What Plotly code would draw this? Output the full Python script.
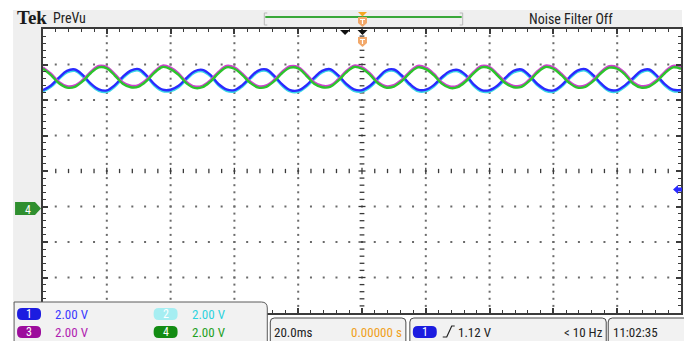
import plotly.graph_objects as go

# ---------------- data ----------------
# time axis, ms (20 ms/div, trigger at centre)
time_ms = [-100.0, -97.5, -95.0, -92.5, -90.0, -87.5, -85.0, -82.5, -80.0, -77.5,
           -75.0, -72.5, -70.0, -67.5, -65.0, -62.5, -60.0, -57.5, -55.0, -52.5,
           -50.0, -47.5, -45.0, -42.5, -40.0, -37.5, -35.0, -32.5, -30.0, -27.5,
           -25.0, -22.5, -20.0, -17.5, -15.0, -12.5, -10.0, -7.5, -5.0, -2.5,
           0.0, 2.5, 5.0, 7.5, 10.0, 12.5, 15.0, 17.5, 20.0, 22.5,
           25.0, 27.5, 30.0, 32.5, 35.0, 37.5, 40.0, 42.5, 45.0, 47.5,
           50.0, 52.5, 55.0, 57.5, 60.0, 62.5, 65.0, 67.5, 70.0, 72.5,
           75.0, 77.5, 80.0, 82.5, 85.0, 87.5, 90.0, 92.5, 95.0, 97.5, 100.0]

# screen positions of the traces, in divisions above centre
ch1_div = [2.28, 2.41, 2.63, 2.82, 2.86, 2.70, 2.46, 2.30,
           2.27, 2.42, 2.65, 2.83, 2.87, 2.69, 2.44, 2.29,
           2.29, 2.40, 2.62, 2.81, 2.85, 2.71, 2.45, 2.30,
           2.28, 2.42, 2.64, 2.83, 2.86, 2.68, 2.44, 2.28,
           2.27, 2.41, 2.63, 2.82, 2.87, 2.70, 2.46, 2.30,
           2.28, 2.40, 2.62, 2.83, 2.86, 2.69, 2.45, 2.29,
           2.29, 2.42, 2.64, 2.81, 2.85, 2.71, 2.44, 2.28,
           2.28, 2.41, 2.63, 2.82, 2.86, 2.69, 2.45, 2.30,
           2.27, 2.41, 2.64, 2.83, 2.87, 2.70, 2.46, 2.29,
           2.28, 2.42, 2.62, 2.82, 2.86, 2.68, 2.44, 2.29,
           2.28]
ch2_div = [2.24, 2.37, 2.59, 2.78, 2.82, 2.66, 2.42, 2.26,
           2.23, 2.38, 2.61, 2.79, 2.83, 2.65, 2.40, 2.25,
           2.25, 2.36, 2.58, 2.77, 2.81, 2.67, 2.41, 2.26,
           2.24, 2.38, 2.60, 2.79, 2.82, 2.64, 2.40, 2.24,
           2.23, 2.37, 2.59, 2.78, 2.83, 2.66, 2.42, 2.26,
           2.24, 2.36, 2.58, 2.79, 2.82, 2.65, 2.41, 2.25,
           2.25, 2.38, 2.60, 2.77, 2.81, 2.67, 2.40, 2.24,
           2.24, 2.37, 2.59, 2.78, 2.82, 2.65, 2.41, 2.26,
           2.23, 2.37, 2.60, 2.79, 2.83, 2.66, 2.42, 2.25,
           2.24, 2.38, 2.58, 2.78, 2.82, 2.64, 2.40, 2.25,
           2.24]
ch4_div = [2.88, 2.70, 2.47, 2.35, 2.37, 2.53, 2.76, 2.92,
           2.89, 2.69, 2.46, 2.36, 2.38, 2.54, 2.77, 2.93,
           2.87, 2.71, 2.47, 2.34, 2.36, 2.52, 2.75, 2.92,
           2.88, 2.70, 2.48, 2.35, 2.37, 2.53, 2.76, 2.91,
           2.89, 2.69, 2.46, 2.36, 2.37, 2.54, 2.77, 2.93,
           2.88, 2.71, 2.47, 2.35, 2.38, 2.53, 2.76, 2.92,
           2.87, 2.70, 2.46, 2.34, 2.36, 2.52, 2.75, 2.92,
           2.89, 2.69, 2.47, 2.36, 2.37, 2.54, 2.77, 2.93,
           2.88, 2.70, 2.48, 2.35, 2.37, 2.53, 2.76, 2.91,
           2.88, 2.71, 2.46, 2.35, 2.38, 2.53, 2.76, 2.92,
           2.88]
ch3_div = [2.92, 2.74, 2.51, 2.39, 2.41, 2.57, 2.80, 2.96,
           2.93, 2.73, 2.50, 2.40, 2.42, 2.58, 2.81, 2.97,
           2.91, 2.75, 2.51, 2.38, 2.40, 2.56, 2.79, 2.96,
           2.92, 2.74, 2.52, 2.39, 2.41, 2.57, 2.80, 2.95,
           2.93, 2.73, 2.50, 2.40, 2.41, 2.58, 2.81, 2.97,
           2.92, 2.75, 2.51, 2.39, 2.42, 2.57, 2.80, 2.96,
           2.91, 2.74, 2.50, 2.38, 2.40, 2.56, 2.79, 2.96,
           2.93, 2.73, 2.51, 2.40, 2.41, 2.58, 2.81, 2.97,
           2.92, 2.74, 2.52, 2.39, 2.41, 2.57, 2.80, 2.95,
           2.92, 2.75, 2.50, 2.39, 2.42, 2.57, 2.80, 2.96,
           2.92]

channel_labels = ["1", "2", "3", "4"]
channel_scale = ["2.00 V", "2.00 V", "2.00 V", "2.00 V"]
timebase_label = "20.0ms"
position_label = "0.00000 s"
trigger_label = "1.12 V"
freq_label = "< 10 Hz"
clock_label = "11:02:35"

# ---------------- styling ----------------
C1, C2, C3, C4 = "#2a2aff", "#3ad6e6", "#d040d0", "#2cc42c"
UI_FONT = "Liberation Sans Narrow, Arial Narrow, Roboto Condensed, DejaVu Sans Condensed, Liberation Sans, sans-serif"
GRID = "#6a6a6a"
FRAME = "#3a3a3a"

W, H = 684, 341
L, R, T, B = 43, 683, 29, 313


def fx(px):
    return (px - L) / (R - L)


def fy(py):
    return (B - py) / (B - T)


def poly(points, close=True):
    s = "M " + " L ".join(f"{fx(x):.5f},{fy(y):.5f}" for x, y in points)
    return s + (" Z" if close else "")


def rrect(x0, y0, x1, y1, r, corners=(1, 1, 1, 1)):
    tl, tr, br, bl = [r * c for c in corners]
    p = lambda x, y: f"{fx(x):.5f},{fy(y):.5f}"
    s = f"M {p(x0 + tl, y0)} L {p(x1 - tr, y0)} "
    s += f"Q {p(x1, y0)} {p(x1, y0 + tr)} " if tr else ""
    s += f"L {p(x1, y1 - br)} "
    s += f"Q {p(x1, y1)} {p(x1 - br, y1)} " if br else ""
    s += f"L {p(x0 + bl, y1)} "
    s += f"Q {p(x0, y1)} {p(x0, y1 - bl)} " if bl else ""
    s += f"L {p(x0, y0 + tl)} "
    s += f"Q {p(x0, y0)} {p(x0 + tl, y0)} " if tl else ""
    return s + "Z"


fig = go.Figure()

# ---- graticule dots (decoration, built from the division grid) ----
gx, gy = [], []
for row in [-3, -2, -1, 1, 2, 3]:
    for k in range(1, 50):
        gx.append(-100 + 4 * k)
        gy.append(row)
for col in [-80, -60, -40, -20, 20, 40, 60, 80]:
    for k in range(1, 40):
        gx.append(col)
        gy.append(-4 + 0.2 * k)
fig.add_trace(go.Scatter(x=gx, y=gy, mode="markers", hoverinfo="skip",
                         marker=dict(symbol="square", size=2, color=GRID, line=dict(width=0)),
                         showlegend=False))

# centre cross tick marks
tx, ty = [], []
for k in range(1, 50):
    x = -100 + 4 * k
    h = 0.09 if (k % 5 == 0) else 0.06
    tx += [x, x, None]
    ty += [-h, h, None]
for k in range(1, 40):
    y = -4 + 0.2 * k
    w = 1.1 if (k % 5 == 0) else 0.75
    tx += [-w, w, None]
    ty += [y, y, None]
fig.add_trace(go.Scatter(x=tx, y=ty, mode="lines", hoverinfo="skip",
                         line=dict(color=FRAME, width=1.3), showlegend=False))

# ---- waveforms ----
for vals, col in [(ch2_div, C2), (ch1_div, C1), (ch3_div, C3), (ch4_div, C4)]:
    fig.add_trace(go.Scatter(x=time_ms, y=vals, mode="lines",
                             line=dict(color=col, width=2.4, shape="spline", smoothing=1.0),
                             showlegend=False, hoverinfo="skip"))

shapes = []
shapes.append(dict(type="rect", xref="paper", yref="paper", x0=fx(13), x1=fx(684), y0=fy(29), y1=fy(10),
                   fillcolor="#efefef", line=dict(width=0), layer="below"))
shapes.append(dict(type="rect", xref="paper", yref="paper", x0=fx(13), x1=fx(43), y0=fy(305), y1=fy(10),
                   fillcolor="#efefef", line=dict(width=0), layer="below"))

# record-view bar in top strip
shapes.append(dict(type="line", xref="paper", yref="paper", x0=fx(266), x1=fx(463), y0=fy(17), y1=fy(17),
                   line=dict(color="#3aa83a", width=2)))
for bx, d in [(265, 1), (464, -1)]:
    shapes.append(dict(type="path", xref="paper", yref="paper",
                       path=poly([(bx + 3 * d, 13), (bx, 13), (bx, 25), (bx + 3 * d, 25)], close=False),
                       line=dict(color="#b8b8b8", width=1)))
shapes.append(dict(type="path", xref="paper", yref="paper",
                   path=poly([(359, 12), (368, 12), (363.5, 16.5)]), fillcolor="#f5a623", line=dict(width=0)))
for ty0 in [17, 37]:
    shapes.append(dict(type="path", xref="paper", yref="paper",
                       path=poly([(359, ty0), (368, ty0), (368, ty0 + 6), (363.5, ty0 + 10), (359, ty0 + 6)]),
                       fillcolor="#f2a86a", line=dict(width=0)))
    shapes.append(dict(type="path", xref="paper", yref="paper",
                       path=poly([(361, ty0 + 2.5), (366, ty0 + 2.5)], close=False) + " " +
                       poly([(363.5, ty0 + 2.5), (363.5, ty0 + 7)], close=False),
                       line=dict(color="white", width=1.2)))
for cx in [346, 363.5]:
    shapes.append(dict(type="path", xref="paper", yref="paper",
                       path=poly([(cx - 5, 30), (cx + 5, 30), (cx, 35)]), fillcolor="#111111", line=dict(width=0),
                       layer="above"))

# ch4 ground marker
shapes.append(dict(type="path", xref="paper", yref="paper",
                   path=poly([(15, 202), (35, 202), (41, 208.5), (35, 215), (15, 215)]),
                   fillcolor="#2f8f2f", line=dict(width=0)))
# trigger level arrow (right)
shapes.append(dict(type="path", xref="paper", yref="paper",
                   path=poly([(675, 189.5), (680, 185), (680, 187.5), (684, 187.5), (684, 191.5), (680, 191.5), (680, 194)]),
                   fillcolor="#2a2aff", line=dict(width=0), layer="above"))

# channel readout box
shapes.append(dict(type="path", xref="paper", yref="paper",
                   path=rrect(14, 302, 268, 346, 6, corners=(0, 1, 0, 0)),
                   fillcolor="#f2f2f2", line=dict(color="#5a5a5a", width=1), layer="above"))
badge_fill = [("#1c1ce0", 17, 308), ("#a6eef2", 154, 308), ("#9c0c9c", 17, 326), ("#138c13", 154, 326)]
for fc, bx, by in badge_fill:
    shapes.append(dict(type="path", xref="paper", yref="paper", path=rrect(bx, by, bx + 24, by + 12, 5),
                       fillcolor=fc, line=dict(width=0), layer="above"))
for x0, x1 in [(271, 407), (411, 608), (610, 690)]:
    shapes.append(dict(type="path", xref="paper", yref="paper", path=rrect(x0, 318, x1, 346, 4),
                       fillcolor="#f2f2f2", line=dict(color="#4a4a4a", width=1), layer="above"))
shapes.append(dict(type="path", xref="paper", yref="paper", path=rrect(414, 326, 438, 338, 5),
                   fillcolor="#1c1ce0", line=dict(width=0), layer="above"))
# rising-edge trigger glyph
shapes.append(dict(type="path", xref="paper", yref="paper",
                   path=poly([(444, 337), (448, 337), (453, 326), (456, 326)], close=False),
                   line=dict(color="#222222", width=1.2), layer="above"))

ann = []


def text(x, y, s, color="#222222", size=13, anchor="left", family=UI_FONT, bold=False):
    ann.append(dict(x=fx(x), y=fy(y), xref="paper", yref="paper", text=f"<b>{s}</b>" if bold else s,
                    showarrow=False, xanchor=anchor, yanchor="middle",
                    font=dict(family=family, size=size, color=color)))


text(15, 17, "Tek", color="#1a1a1a", size=19, family="Liberation Serif, DejaVu Serif, serif", bold=True)
text(51, 18, "PreVu", size=14)
text(573, 19, "Noise Filter Off", size=14, anchor="center")
text(28, 203 + 6.5, "4", color="white", size=12, anchor="center")

text(29, 314, channel_labels[0], color="white", size=12, anchor="center")
text(166, 314, channel_labels[1], color="white", size=12, anchor="center")
text(29, 332, channel_labels[2], color="white", size=12, anchor="center")
text(166, 332, channel_labels[3], color="white", size=12, anchor="center")
text(53, 314, channel_scale[0], color="#3a3aff")
text(190, 314, channel_scale[1], color="#2ed2de")
text(53, 332, channel_scale[2], color="#b01cb0")
text(190, 332, channel_scale[3], color="#1ea01e")

text(273, 332, timebase_label)
text(405, 332, position_label, color="#f0a020", anchor="right")
text(426, 332, "1", color="white", size=12, anchor="center")
text(457, 332, trigger_label)
text(607, 332, freq_label, anchor="right")
text(613, 332, clock_label)

fig.update_layout(
    width=W, height=H,
    margin=dict(l=L, r=W - R, t=T, b=H - B, pad=0),
    paper_bgcolor="white", plot_bgcolor="white",
    shapes=shapes, annotations=ann, showlegend=False,
    xaxis=dict(range=[-100, 100], showgrid=False, zeroline=False, showline=True, linecolor=FRAME,
               linewidth=1.5, mirror="ticks", ticks="inside", tick0=-100, dtick=20, ticklen=5,
               tickwidth=1.5, tickcolor=FRAME, showticklabels=False, fixedrange=True,
               minor=dict(dtick=4, tick0=-100, ticks="inside", ticklen=3, tickcolor=FRAME, tickwidth=1.3, showgrid=False)),
    yaxis=dict(range=[-4, 4], showgrid=False, zeroline=False, showline=True, linecolor=FRAME,
               linewidth=1.5, mirror="ticks", ticks="inside", tick0=-4, dtick=1, ticklen=5,
               tickwidth=1.5, tickcolor=FRAME, showticklabels=False, fixedrange=True,
               minor=dict(dtick=0.2, tick0=-4, ticks="inside", ticklen=3, tickcolor=FRAME, tickwidth=1.3, showgrid=False)),
)

fig.write_html("out.html")
